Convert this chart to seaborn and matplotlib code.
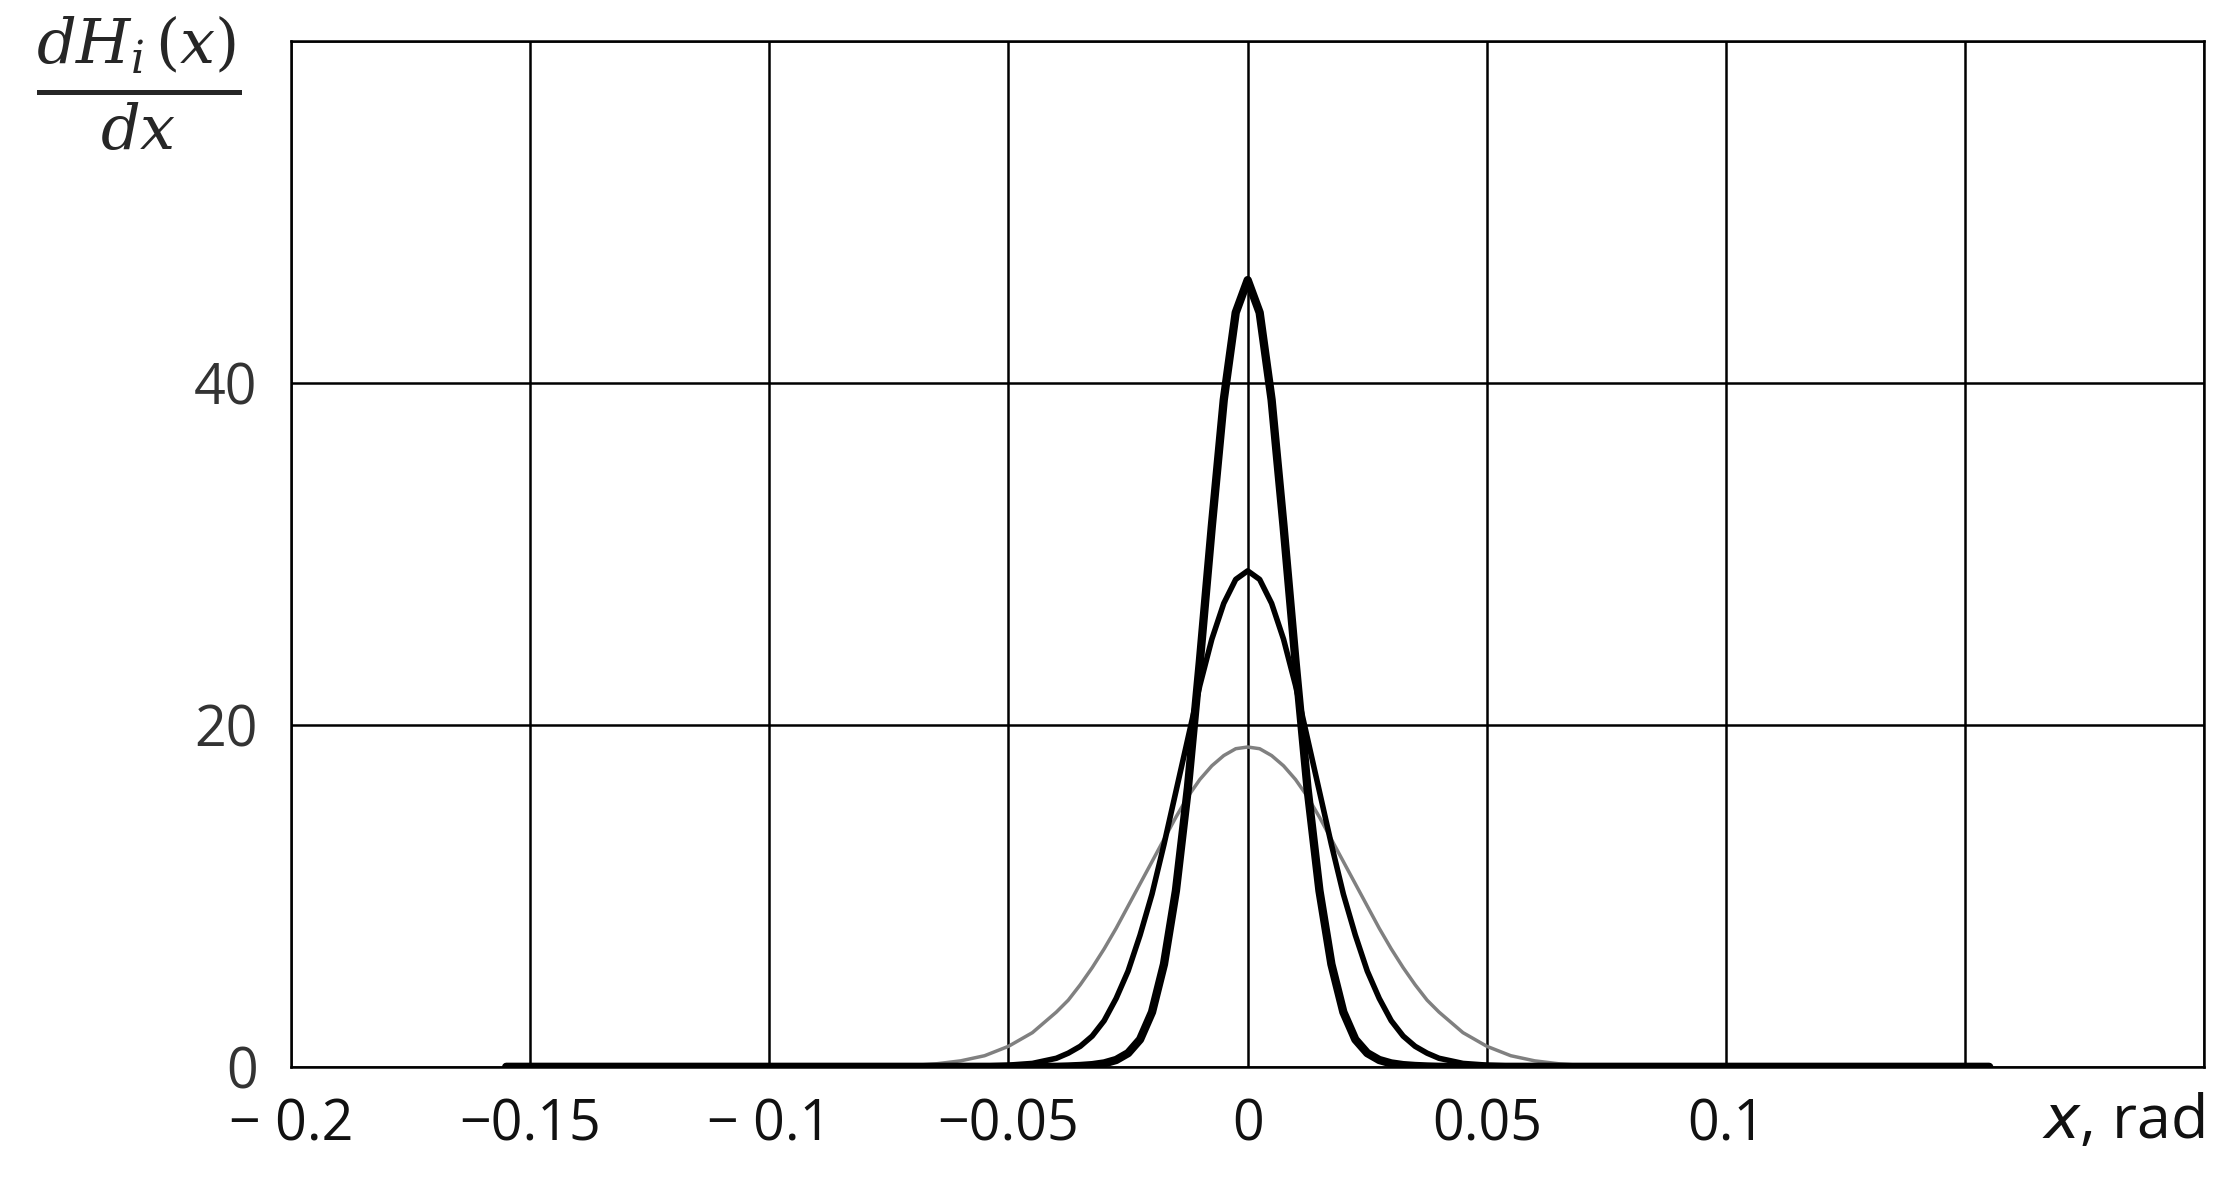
import matplotlib
matplotlib.use("Agg")
import matplotlib.pyplot as plt
import seaborn as sns

# half-profiles (x >= 0), curves are symmetric
x_half = [0.0, 0.0025, 0.005, 0.0075, 0.01, 0.0125, 0.015, 0.0175, 0.02, 0.0225,
          0.025, 0.0275, 0.03, 0.0325, 0.035, 0.0375, 0.04, 0.045, 0.05,
          0.055, 0.06, 0.065, 0.07, 0.08, 0.1, 0.12, 0.155]
thick = [46.0, 44.1, 39.0, 31.6, 23.7, 16.3, 10.3, 6.0, 3.2, 1.6,
         0.8, 0.4, 0.2, 0.1, 0.05, 0.02, 0.0, 0.0, 0.0,
         0.0, 0.0, 0.0, 0.0, 0.0, 0.0, 0.0, 0.0]
medium = [29.0, 28.5, 27.1, 25.0, 22.3, 19.2, 16.1, 13.0, 10.1, 7.7,
          5.6, 4.0, 2.7, 1.8, 1.2, 0.8, 0.5, 0.2, 0.1,
          0.05, 0.0, 0.0, 0.0, 0.0, 0.0, 0.0, 0.0]
thin = [18.7, 18.6, 18.2, 17.6, 16.8, 15.8, 14.6, 13.3, 12.0, 10.7,
        9.4, 8.1, 6.9, 5.8, 4.8, 3.9, 3.2, 2.0, 1.2,
        0.65, 0.35, 0.18, 0.08, 0.02]
xticks = [-0.2, -0.15, -0.1, -0.05, 0, 0.05, 0.1, 0.15, 0.2]
xticklabels = ["− 0.2", "−0.15", "− 0.1", "−0.05", "0", "0.05", "0.1", "", ""]
yticks = [0, 20, 40, 60]
yticklabels = ["0", "20", "40", ""]

def full(xs, ys):
    n = len(ys)
    xx = [-v for v in xs[:n][::-1]] + xs[1:n]
    yy = ys[::-1] + ys[1:]
    return xx, yy

sns.set_theme(style="white")
plt.rcParams['font.family'] = ['Open Sans', 'DejaVu Sans']
fig = plt.figure(figsize=(22.38, 11.96), dpi=100)
ax = fig.add_axes([0.130, 0.108, 0.855, 0.858])

for ys, col, lw in [(thin, "#808080", 2.5), (medium, "black", 4), (thick, "black", 6)]:
    xx, yy = full(x_half, ys)
    sns.lineplot(x=xx, y=yy, ax=ax, color=col, linewidth=lw, sort=False)

ax.set_xlim(-0.2, 0.2)
ax.set_ylim(0, 60)
ax.set_xticks(xticks)
ax.set_xticklabels(xticklabels, fontsize=40, color="#111111")
ax.set_yticks(yticks)
ax.set_yticklabels(yticklabels, fontsize=40, color="#333333")
ax.tick_params(axis='x', length=0, pad=22)
ax.tick_params(axis='y', length=0, pad=24)
ax.grid(True, color="black", linewidth=1.8)
for s in ax.spines.values():
    s.set_visible(True)
    s.set_color("black")
    s.set_linewidth(1.8)

fig.text(0.062, 0.93, r"$\frac{dH_i\,(x)}{dx}$", fontsize=64, ha="center", va="center",
         family="DejaVu Serif", math_fontfamily="dejavuserif")
fig.text(0.985, 0.062, r"$x$, rad", fontsize=44, ha="right", va="center", color="#111111")

fig.savefig("out.png", dpi=100)
